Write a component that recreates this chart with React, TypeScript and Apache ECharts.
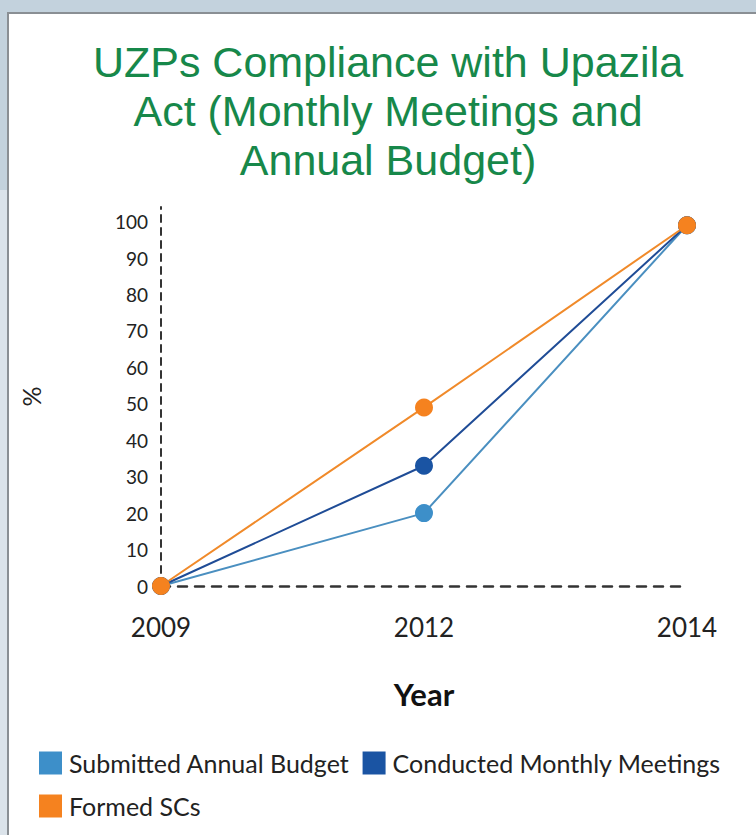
import React, { useEffect, useRef } from "react";
import * as echarts from "echarts";

const years = ["2009", "2012", "2014"];
const submittedBudget = [0, 20, 99];
const conductedMeetings = [0, 33, 99];
const formedSCs = [0, 49, 99];
const seriesNames = ["Submitted Annual Budget", "Conducted Monthly Meetings", "Formed SCs"];
const titleText = "UZPs Compliance with Upazila\nAct (Monthly Meetings and\nAnnual Budget)";

const LIGHT = "#3d8fc9";
const DARK = "#1a54a3";
const ORANGE = "#f5821f";

export default function App() {
  const ref = useRef<HTMLDivElement>(null);
  useEffect(() => {
    const chart = echarts.init(ref.current!, null, { renderer: "svg" });
    const mk = (name: string, data: number[], color: string, lineColor: string) => ({
      name,
      type: "line",
      data,
      symbol: "circle",
      symbolSize: 18,
      itemStyle: { color },
      lineStyle: { color: lineColor, width: 2 },
    });
    chart.setOption({
      animation: false,
      backgroundColor: "#ffffff",
      graphic: {
        elements: [
          { type: "rect", z: -100, shape: { x: 0, y: 0, width: 756, height: 835 }, style: { fill: "#dbe3ea" } },
          { type: "rect", z: -99, shape: { x: 0, y: 0, width: 756, height: 190 }, style: { fill: "#c3d2dd" } },
          { type: "rect", z: -98, shape: { x: 8, y: 13, width: 760, height: 830 }, style: { fill: "#ffffff", stroke: "#8a8f94", lineWidth: 2 } },
        ],
      },
      title: {
        text: titleText,
        left: 388,
        top: 37,
        padding: 0,
        textAlign: "center",
        textStyle: {
          fontFamily: "Liberation Sans",
          fontSize: 43,
          fontWeight: "normal",
          color: "#17884a",
          lineHeight: 49,
        },
      },
      legend: {
        left: 34,
        top: 743,
        width: 710,
        itemWidth: 23,
        itemHeight: 23,
        itemGap: 13,
        icon: "rect",
        data: seriesNames,
        textStyle: { fontFamily: "Lato", fontSize: 25, color: "#222", lineHeight: 30, padding: [0, 0, 0, 2] },
      },
      grid: { left: 161, right: 69, top: 207, bottom: 249, containLabel: false },
      xAxis: {
        type: "category",
        data: years,
        boundaryGap: false,
        axisLine: { lineStyle: { color: "#333", width: 2.5, type: [9, 8] } },
        axisTick: { show: false },
        axisLabel: { margin: 28, fontFamily: "Lato", fontSize: 26, color: "#222" },
        name: "Year",
        nameLocation: "middle",
        nameGap: 92,
        nameTextStyle: { fontFamily: "Lato", fontWeight: "bold", fontSize: 31, color: "#111" },
      },
      yAxis: {
        type: "value",
        min: 0,
        max: 104,
        interval: 10,
        splitLine: { show: false },
        axisTick: { show: false },
        axisLine: { show: true, lineStyle: { color: "#333", width: 2, type: [7, 6] } },
        axisLabel: {
          margin: 13,
          fontFamily: "Lato",
          fontSize: 19,
          color: "#222",
          formatter: (v: number) => (v % 10 === 0 ? String(v) : ""),
        },
        name: "%",
        nameLocation: "middle",
        nameGap: 118,
        nameRotate: 90,
        nameTextStyle: { fontFamily: "Lato", fontSize: 25, color: "#222" },
      },
      series: [
        mk(seriesNames[0], submittedBudget, LIGHT, "#4a8fc0"),
        mk(seriesNames[1], conductedMeetings, DARK, "#1f4c96"),
        mk(seriesNames[2], formedSCs, ORANGE, "#f08a2a"),
      ],
    });
    return () => chart.dispose();
  }, []);
  return <div ref={ref} style={{ position: "absolute", left: 0, top: 0, width: 756, height: 835 }} />;
}
